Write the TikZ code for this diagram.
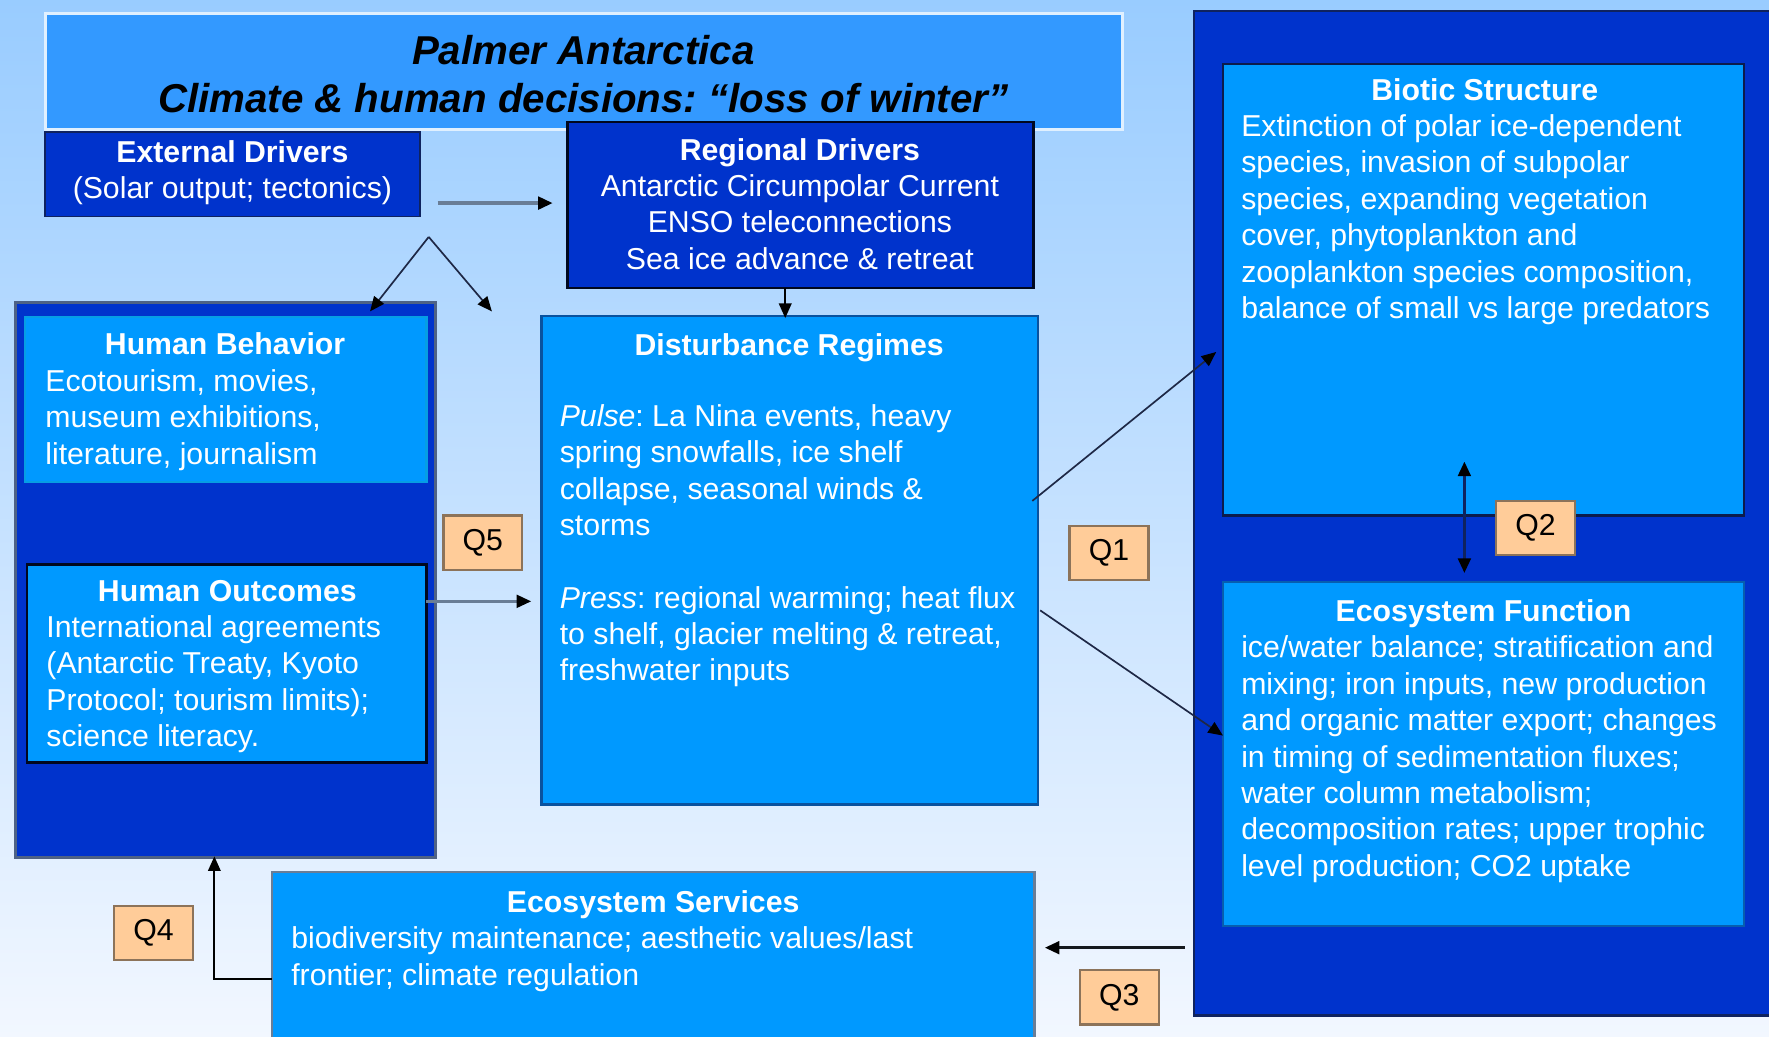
\documentclass[tikz,border=0pt]{standalone}
\usepackage{fontspec}
\setmainfont{Liberation Sans}
\usetikzlibrary{arrows.meta}
\definecolor{dkblue}{RGB}{0,51,204}
\definecolor{mdblue}{RGB}{0,153,255}
\definecolor{ttblue}{RGB}{51,153,255}
\definecolor{peach}{RGB}{255,204,153}
\definecolor{bgtop}{RGB}{153,204,255}
\definecolor{bgbot}{RGB}{242,247,255}
\definecolor{qborder}{RGB}{140,115,90}
\definecolor{lngray}{RGB}{105,125,150}
\definecolor{navyline}{RGB}{15,35,95}
\definecolor{darkline}{RGB}{30,40,70}
\newcommand\bodyfnt{\fontsize{26.8}{32.3}\selectfont\frenchspacing}
\newcommand\ttlfnt{\fontsize{35.7}{43}\selectfont\bfseries\itshape\frenchspacing}
\tikzset{
  box/.style={rectangle, inner sep=0pt, outer sep=0pt, anchor=north west},
  darkbox/.style={box, fill=dkblue},
  medbox/.style={box, fill=mdblue},
  wtext/.style={text=white, font=\bodyfnt, inner sep=0pt, align=left, anchor=base west},
  ctext/.style={text=white, font=\bodyfnt, inner sep=0pt, align=center, anchor=base},
  whead/.style={text=white, font=\bodyfnt\bfseries, inner sep=0pt, anchor=base},
  ttl/.style={text=black, font=\ttlfnt, inner sep=0pt, anchor=base},
  qbox/.style={box, fill=peach, draw=qborder, line width=2pt, minimum width=70pt, minimum height=48pt, font=\bodyfnt, text=black},
  arr/.style={-{Triangle[length=13pt,width=11pt,color=black]}},
  darr/.style={{Triangle[length=13pt,width=11pt,color=black]}-{Triangle[length=13pt,width=11pt,color=black]}},
}
\begin{document}
\begin{tikzpicture}[x=1pt,y=-1pt]
\useasboundingbox (0,0) rectangle (1568,919);
\shade[top color=bgtop, bottom color=bgbot] (0,0) rectangle (1568,919);

% title
\node[box, fill=ttblue, draw=white!85!ttblue, line width=2.5pt, minimum width=955pt, minimum height=103pt] (title) at (40,12) {};
\node[ttl] (t1) at (517,57) {Palmer Antarctica};
\node[ttl] (t2) at (517,100) {Climate \& human decisions: “loss of winter”};

% external drivers
\node[darkbox, draw=navyline, line width=1.5pt, minimum width=332pt, minimum height=75pt] (ext) at (40,117) {};
\node[whead] (exth) at (206,144) {External Drivers};
\node[ctext] (extt) at (206,176) {(Solar output; tectonics)};

% regional drivers
\node[darkbox, draw=black!85!dkblue, line width=2pt, minimum width=413pt, minimum height=147pt] (reg) at (503,108) {};
\node[whead] (regh) at (709,142) {Regional Drivers};
\node[ctext] (regt) at (709,238.6) {Antarctic Circumpolar Current\\ENSO teleconnections\\Sea ice advance \& retreat};

% human container
\node[darkbox, draw=lngray!70!navyline, line width=2.5pt, minimum width=372pt, minimum height=492pt] (hcont) at (14,268) {};
\node[medbox, draw=cyan!70!mdblue, line width=2pt, minimum width=356pt, minimum height=146pt] (hb) at (22,281) {};
\node[whead] (hbh) at (199.5,314) {Human Behavior};
\node[wtext] (hbt) at (40,411.6) {Ecotourism, movies,\\museum exhibitions,\\literature, journalism};
\node[medbox, draw=black!85!dkblue, line width=2.5pt, minimum width=354pt, minimum height=176pt] (ho) at (24,500) {};
\node[whead] (hoh) at (201.5,533) {Human Outcomes};
\node[wtext] (hot) at (41,661.9) {International agreements\\(Antarctic Treaty, Kyoto\\Protocol; tourism limits);\\science literacy.};

% disturbance regimes
\node[medbox, draw=navyline!60!mdblue, line width=2pt, minimum width=440pt, minimum height=433pt] (dist) at (480,280) {};
\node[whead] (disth) at (699.5,315) {Disturbance Regimes};
\node[wtext] (pulse) at (496,474.9) {\textit{Pulse}: La Nina events, heavy\\spring snowfalls, ice shelf\\collapse, seasonal winds \&\\storms};
\node[wtext] (press) at (496,603.6) {\textit{Press}: regional warming; heat flux\\to shelf, glacier melting \& retreat,\\freshwater inputs};

% right container
\node[darkbox, draw=navyline, line width=2pt, minimum width=520pt, minimum height=890pt] (rcont) at (1058,10) {};
\node[medbox, draw=navyline!80!black, line width=2pt, minimum width=462pt, minimum height=400pt] (bio) at (1084,57) {};
\node[whead] (bioh) at (1316,89) {Biotic Structure};
\node[wtext] (biot) at (1100,282.5) {Extinction of polar ice-dependent\\species, invasion of subpolar\\species, expanding vegetation\\cover, phytoplankton and\\zooplankton species composition,\\balance of small vs large predators};
\node[medbox, draw=navyline!50!mdblue, line width=2pt, minimum width=462pt, minimum height=305pt] (ef) at (1084,516) {};
\node[whead] (efh) at (1315,551) {Ecosystem Function};
\node[wtext] (eft) at (1100,776.8) {ice/water balance; stratification and\\mixing; iron inputs, new production\\and organic matter export; changes\\in timing of sedimentation fluxes;\\water column metabolism;\\decomposition rates; upper trophic\\level production; CO2 uptake};

% ecosystem services
\node[medbox, draw=lngray, line width=2pt, minimum width=676pt, minimum height=160pt] (esv) at (241,773) {};
\node[whead] (esvh) at (579,809) {Ecosystem Services};
\node[wtext] (esvt) at (258,873.3) {biodiversity maintenance; aesthetic values/last\\frontier; climate regulation};

% connector coordinates
\coordinate (e1a) at (388,180);
\coordinate (e1b) at (490,180);
\coordinate (apex) at (380,210);
\coordinate (apl) at (328,276);
\coordinate (apr) at (436,276);
\coordinate (r1a) at (696,255);
\coordinate (r1b) at (696,282);
\coordinate (h1a) at (378,533);
\coordinate (h1b) at (471,533);
\coordinate (d1a) at (915,444);
\coordinate (d1b) at (1078,312);
\coordinate (d2a) at (922,541);
\coordinate (d2b) at (1084,652);
\coordinate (bea) at (1298,409);
\coordinate (beb) at (1298,508);
\coordinate (s3a) at (1050,840);
\coordinate (s3b) at (926,840);
\coordinate (s4a) at (241,868);
\coordinate (s4b) at (190,759);

% connectors
\draw[arr, draw=lngray, line width=3.5pt] (e1a) -- (e1b);
\draw[arr, draw=darkline, line width=1.5pt] (apex) -- (apl);
\draw[arr, draw=darkline, line width=1.5pt] (apex) -- (apr);
\draw[arr, draw=black, line width=2pt] (r1a) -- (r1b);
\draw[arr, draw=lngray, line width=3pt] (h1a) -- (h1b);
\draw[arr, draw=darkline, line width=1.5pt] (d1a) -- (d1b);
\draw[arr, draw=darkline, line width=1.5pt] (d2a) -- (d2b);
\draw[darr, draw=navyline, line width=3pt] (bea) -- (beb);
\draw[arr, draw=black!80!lngray, line width=3pt] (s3a) -- (s3b);
\draw[arr, draw=black, line width=2pt] (s4a) -| (s4b);

% question boxes
\node[qbox] (q5) at (393,457) {Q5};
\node[qbox] (q1) at (948,466) {Q1};
\node[qbox] (q2) at (1326,444) {Q2};
\node[qbox] (q3) at (957,860) {Q3};
\node[qbox] (q4) at (101,803) {Q4};
\end{tikzpicture}
\end{document}
